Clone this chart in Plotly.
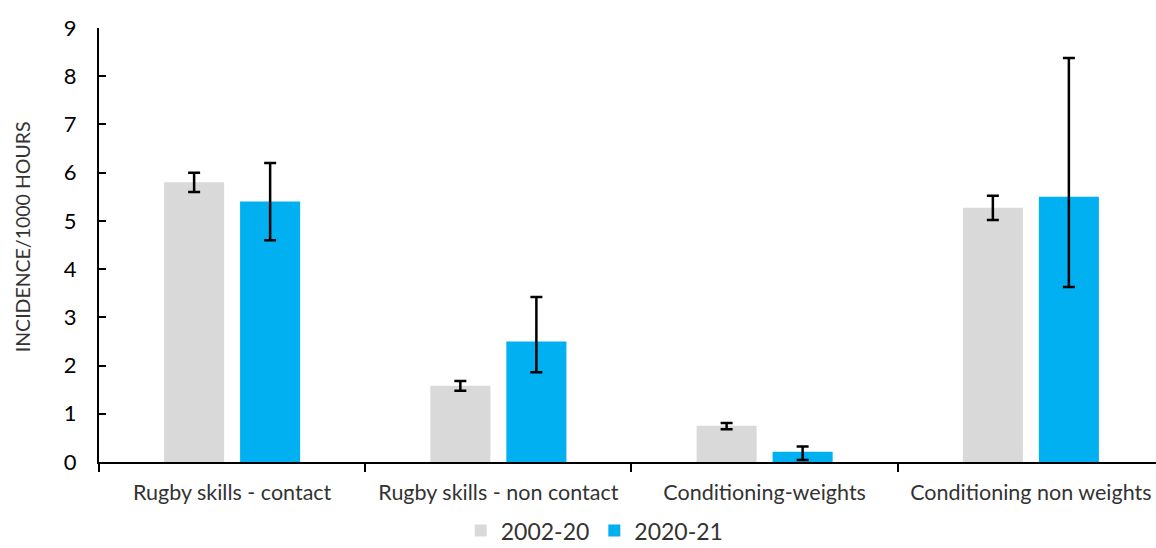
import plotly.graph_objects as go

categories = ["Rugby skills - contact", "Rugby skills - non contact", "Conditioning-weights", "Conditioning non weights"]
series_names = ["2002-20", "2020-21"]
vals_2002 = [5.8, 1.58, 0.75, 5.27]
err_2002_plus = [0.2, 0.1, 0.06, 0.25]
err_2002_minus = [0.2, 0.1, 0.07, 0.25]
vals_2020 = [5.4, 2.5, 0.21, 5.5]
err_2020_plus = [0.8, 0.92, 0.11, 2.88]
err_2020_minus = [0.8, 0.64, 0.17, 1.87]
colors = ["#D9D9D9", "#00B0F0"]
y_title = "INCIDENCE/1000 HOURS"

font_family = "Lato, Open Sans, sans-serif"

fig = go.Figure()
for name, vals, ep, em, c in [
    (series_names[0], vals_2002, err_2002_plus, err_2002_minus, colors[0]),
    (series_names[1], vals_2020, err_2020_plus, err_2020_minus, colors[1]),
]:
    fig.add_trace(go.Bar(
        x=categories, y=vals, name=name, marker=dict(color=c, line=dict(width=0)),
        error_y=dict(type="data", symmetric=False, array=ep, arrayminus=em,
                     color="black", thickness=2.5, width=6),
    ))

fig.update_layout(
    width=1156, height=548, autosize=False,
    margin=dict(l=99, r=0, t=28, b=86, autoexpand=False),
    paper_bgcolor="white", plot_bgcolor="white",
    barmode="group", bargap=0.429, bargroupgap=0.21,
    font=dict(family=font_family, color="black"),
    legend=dict(orientation="h", x=0.469, xanchor="center", y=-0.158, yanchor="middle",
                font=dict(size=23, color="#333333"), itemwidth=30),
    showlegend=True,
    annotations=[dict(text=y_title, xref="paper", yref="paper", x=-0.0728, y=0.518,
                      xanchor="center", yanchor="middle", textangle=-90, showarrow=False,
                      font=dict(size=19.5, color="#333333"))],
)
fig.update_xaxes(
    range=[-0.5, 3.47], showline=True, linecolor="black", linewidth=2,
    ticks="outside", tickson="boundaries", ticklen=8, tickwidth=1.5, tickcolor="black",
    tickfont=dict(size=21.5, color="#333333"), showgrid=False, ticklabelstandoff=10,
    automargin=False,
)
fig.update_yaxes(
    range=[0, 9], dtick=1, showline=True, linecolor="black", linewidth=2,
    ticks="inside", ticklen=7, tickwidth=1.5, tickcolor="black",
    tickfont=dict(size=22), showgrid=False, zeroline=False, ticklabelstandoff=16,
    automargin=False,
)

fig.write_html("out.html")
